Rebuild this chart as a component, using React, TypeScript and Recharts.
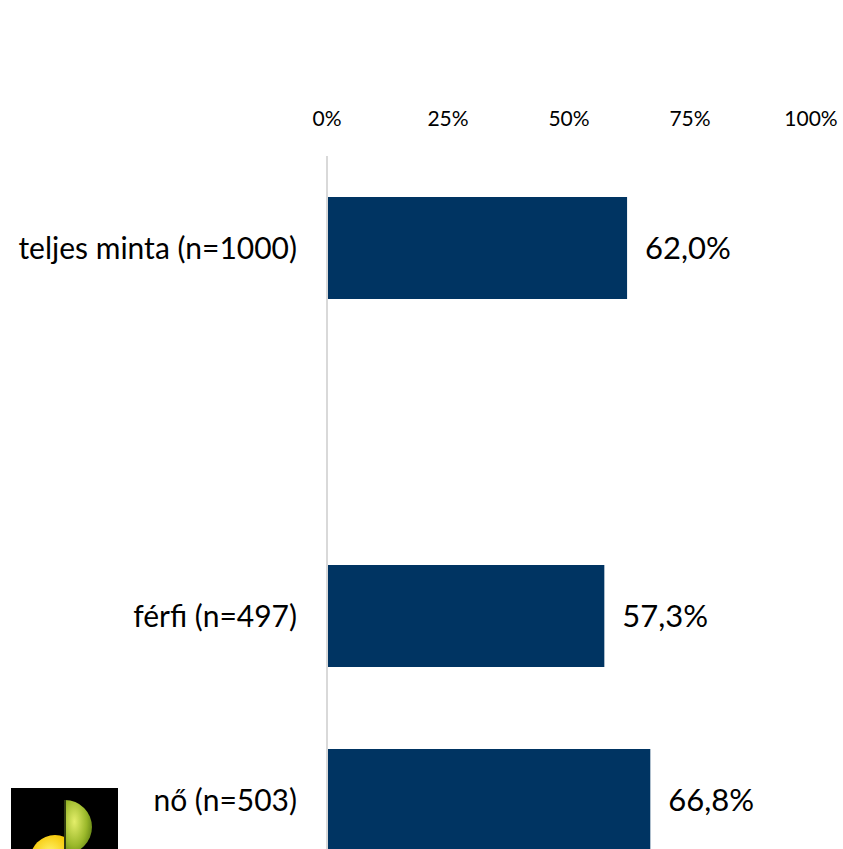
import React from 'react';
import { BarChart, Bar, XAxis, YAxis, LabelList } from 'recharts';

// kategóriák és értékek (az üres kategória a nagy hézag a teljes minta után)
const categories = ['teljes minta (n=1000)', ' ', 'férfi (n=497)', 'nő (n=503)'];
const values: (number | null)[] = [62.0, null, 57.3, 66.8];
const xTicks = [0, 25, 50, 75, 100];

const data = categories.map((name, i) => ({ name, value: values[i] }));

const FONT = 'Lato, "Open Sans", sans-serif';

const fmtPct = (v: any) =>
  v == null ? '' : `${Number(v).toFixed(1).replace('.', ',')}%`;

const Logo: React.FC = () => (
  <svg width={107} height={70} style={{ position: 'absolute', left: 11, top: 788 }}>
    <defs>
      <radialGradient id="yel" cx="40%" cy="35%" r="70%">
        <stop offset="0%" stopColor="#fff36a" />
        <stop offset="60%" stopColor="#f5c400" />
        <stop offset="100%" stopColor="#d08a00" />
      </radialGradient>
      <radialGradient id="grn" cx="35%" cy="40%" r="75%">
        <stop offset="0%" stopColor="#e4ee6a" />
        <stop offset="60%" stopColor="#9ab82a" />
        <stop offset="100%" stopColor="#5a7a10" />
      </radialGradient>
    </defs>
    <rect x={0} y={0} width={107} height={70} fill="#000" />
    <circle cx={44} cy={72} r={25} fill="url(#yel)" />
    <path d="M54 12 A27 27 0 0 1 54 66 Z" fill="url(#grn)" />
    <line x1={54} y1={12} x2={54} y2={70} stroke="#2e3a10" strokeWidth={2} />
  </svg>
);

const App: React.FC = () => {
  return (
    <div style={{ position: 'absolute', left: 0, top: 0, width: 843, height: 849, overflow: 'hidden', background: '#fff' }}>
      <BarChart
        width={843}
        height={900}
        data={data}
        layout="vertical"
        margin={{ top: 126, right: 32, bottom: 8, left: 0 }}
        barCategoryGap={0}
      >
        <XAxis
          type="number"
          orientation="top"
          domain={[0, 100]}
          ticks={xTicks}
          tickFormatter={(v) => `${v}%`}
          axisLine={false}
          tickLine={false}
          height={30}
          tickMargin={24}
          tick={{ fill: '#000', fontSize: 21, fontFamily: FONT }}
        />
        <YAxis
          type="category"
          dataKey="name"
          width={327}
          axisLine={{ stroke: '#d9d9d9', strokeWidth: 2 }}
          tickLine={false}
          tickMargin={24}
          tick={{ fill: '#000', fontSize: 30, fontFamily: FONT }}
        />
        <Bar dataKey="value" fill="#003462" barSize={102} isAnimationActive={false}>
          <LabelList
            dataKey="value"
            position="right"
            offset={18}
            formatter={fmtPct}
            style={{ fill: '#000', fontSize: 31, fontFamily: FONT }}
          />
        </Bar>
      </BarChart>
      <Logo />
    </div>
  );
};

export default App;
